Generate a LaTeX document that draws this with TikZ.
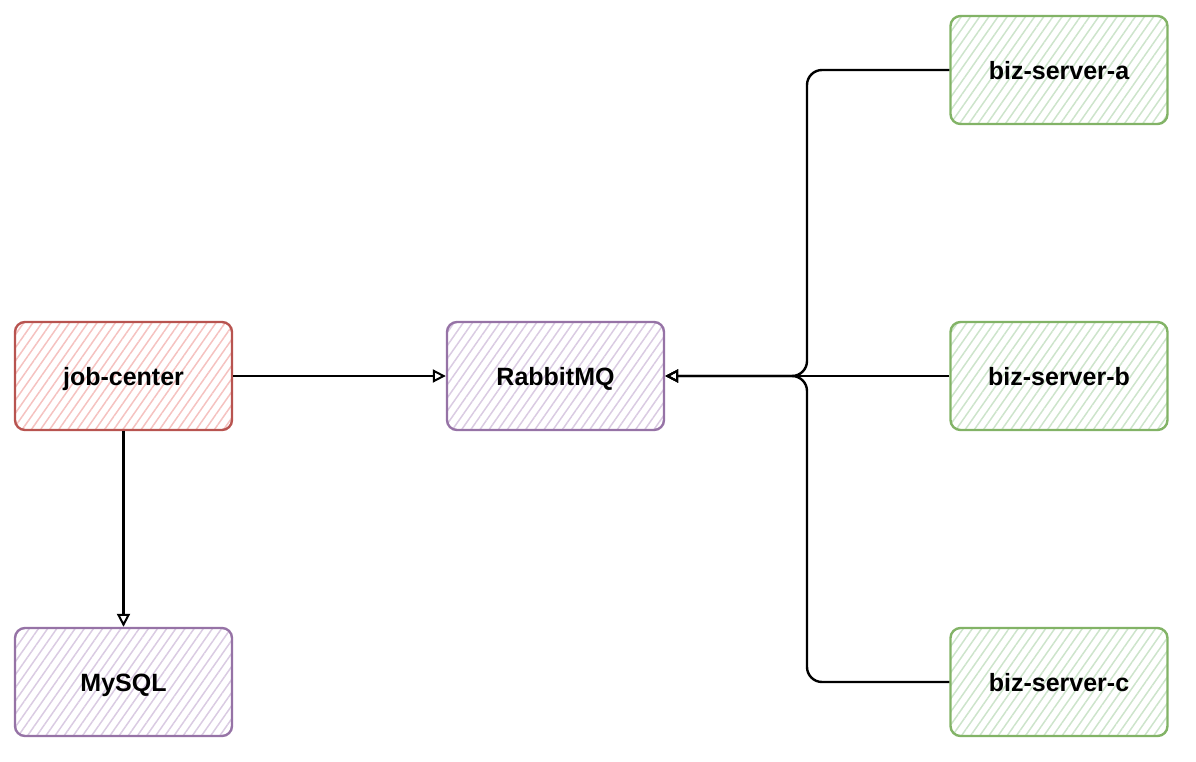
\documentclass[tikz,border=0pt]{standalone}
\usepackage{fontspec}
\setmainfont{Liberation Sans}
\usetikzlibrary{arrows.meta,patterns.meta}
\definecolor{redS}{HTML}{B85450}
\definecolor{redF}{HTML}{F5C2C0}
\definecolor{purS}{HTML}{9673A6}
\definecolor{purF}{HTML}{DACBE2}
\definecolor{grnS}{HTML}{82B366}
\definecolor{grnF}{HTML}{CDE4CB}
\tikzset{
  box/.style={rectangle, rounded corners=10pt, minimum width=217pt, minimum height=108pt,
    line width=2.4pt, font=\fontsize{25}{30}\selectfont\bfseries, text=black,
    text height=18pt, text depth=5pt,
    pattern={Lines[angle=55,distance=7.5pt,line width=1.5pt]}},
  redbox/.style={box, draw=redS, pattern color=redF},
  purbox/.style={box, draw=purS, pattern color=purF},
  grnbox/.style={box, draw=grnS, pattern color=grnF},
  conn/.style={line width=2.4pt, draw=black, -{Triangle[open,length=13pt,width=13pt,line width=2pt]}},
  busconn/.style={conn, rounded corners=15pt},
}
\begin{document}
\begin{tikzpicture}[x=1pt,y=-1pt]
\useasboundingbox (0,0) rectangle (1196,762);
\node[redbox] (jc) at (123.5,376) {\raisebox{-3pt}{job-center}};
\node[purbox] (rmq) at (555.5,376) {\raisebox{-3pt}{RabbitMQ}};
\node[purbox] (mysql) at (123.5,682) {\raisebox{-3pt}{MySQL}};
\node[grnbox] (bsa) at (1059,70) {\raisebox{-3pt}{biz-server-a}};
\node[grnbox] (bsb) at (1059,376) {\raisebox{-3pt}{biz-server-b}};
\node[grnbox] (bsc) at (1059,682) {\raisebox{-3pt}{biz-server-c}};
\coordinate (bus) at (807,376);
\draw[conn] (jc.east) -- (rmq.west);
\draw[conn] (jc.south) -- (mysql.north);
\draw[busconn] (bsa.west) -| (bus) -- (rmq.east);
\draw[conn] (bsb.west) -- (rmq.east);
\draw[busconn] (bsc.west) -| (bus) -- (rmq.east);
\end{tikzpicture}
\end{document}
